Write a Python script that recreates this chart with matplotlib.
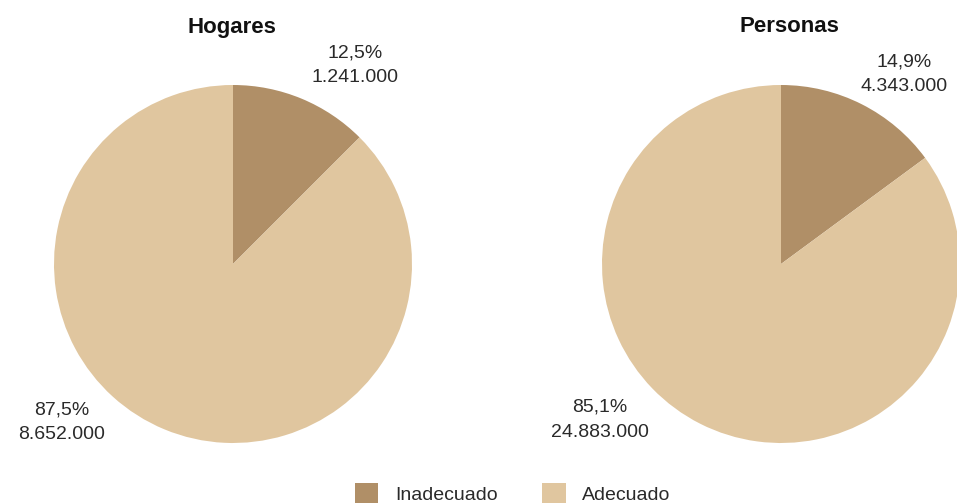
import matplotlib
matplotlib.use("Agg")
import matplotlib.pyplot as plt
from matplotlib.patches import Patch

plt.rcParams['font.family'] = ['Liberation Sans', 'DejaVu Sans']

categories = ["Inadecuado", "Adecuado"]
titles = ["Hogares", "Personas"]
pct_hogares = [12.5, 87.5]
pct_personas = [14.9, 85.1]
abs_hogares = ["1.241.000", "8.652.000"]
abs_personas = ["4.343.000", "24.883.000"]
pct_labels_hogares = ["12,5%", "87,5%"]
pct_labels_personas = ["14,9%", "85,1%"]

colors = ["#B08F67", "#E0C69F"]
text_color = "#2a2a2a"

W, H = 957, 503
fig = plt.figure(figsize=(W / 100, H / 100), dpi=100)

def add_pie(cx, cy, r, values, title, title_x, pct_labels, abs_labels, label_pos):
    ax = fig.add_axes([(cx - r) / W, (H - cy - r) / H, 2 * r / W, 2 * r / H])
    ax.pie(values, colors=colors, startangle=90, counterclock=False,
           radius=1.0, wedgeprops=dict(linewidth=0))
    ax.set_xlim(-1, 1)
    ax.set_ylim(-1, 1)
    ax.set_aspect('equal')
    ax.axis('off')
    for (dx, dy), p, a in zip(label_pos, pct_labels, abs_labels):
        ax.text(dx, dy, p + "\n" + a, ha='center', va='center', fontsize=14,
                color=text_color, linespacing=1.62, clip_on=False)
    fig.text(title_x / W, 1 - 27 / H, title, ha='center', va='center',
             fontsize=16, fontweight='bold', color='#111111')

add_pie(233, 264, 179, pct_hogares, titles[0], 232, pct_labels_hogares, abs_hogares,
        [(0.68, 1.11), (-0.955, -0.885)])
add_pie(781, 264, 179, pct_personas, titles[1], 789, pct_labels_personas, abs_personas,
        [(0.687, 1.06), (-1.01, -0.87)])

handles = [Patch(facecolor=c, edgecolor='none') for c in colors]
fig.legend(handles, categories, loc='upper left',
           bbox_to_anchor=(355 / W, 1 - 483 / H), ncol=2, frameon=False,
           fontsize=14, handlelength=1.2, handleheight=1.2,
           handletextpad=0.85, columnspacing=2.3, borderpad=0, borderaxespad=0,
           labelcolor=text_color)

fig.savefig("out.png", dpi=100)
